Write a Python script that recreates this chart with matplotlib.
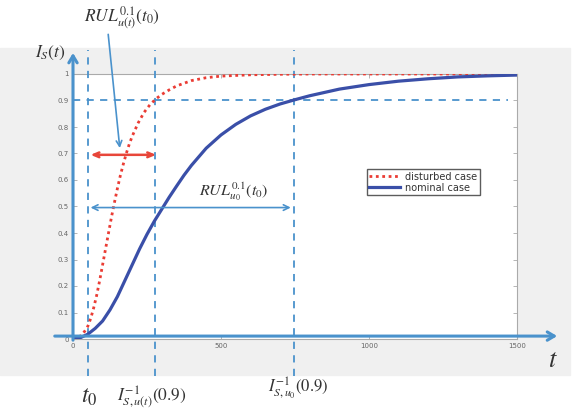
import matplotlib.pyplot as plt
from matplotlib.patches import Rectangle

plt.rcParams['mathtext.fontset'] = 'stix'

# disturbed case (red dotted)
t_dist = [0, 10, 20, 30, 40, 50, 60, 70, 80, 90, 100, 110, 120, 130, 140, 150,
          160, 170, 180, 190, 200, 220, 240, 260, 280, 300, 325, 350, 400, 450,
          500, 600, 700, 800, 1000, 1200, 1500]
i_dist = [0, 0.002, 0.007, 0.016, 0.03, 0.048, 0.078, 0.118, 0.165, 0.22, 0.28,
          0.34, 0.40, 0.46, 0.515, 0.568, 0.617, 0.66, 0.70, 0.735, 0.765, 0.815,
          0.855, 0.884, 0.906, 0.923, 0.94, 0.955, 0.975, 0.986, 0.992, 0.997,
          0.999, 1.0, 1.0, 1.0, 1.0]

# nominal case (blue solid)
t_nom = [0, 25, 50, 75, 100, 125, 150, 175, 200, 225, 250, 275, 300, 325, 350,
         375, 400, 450, 500, 550, 600, 650, 700, 750, 800, 900, 1000, 1100,
         1200, 1300, 1400, 1500]
i_nom = [0, 0.005, 0.018, 0.04, 0.068, 0.11, 0.16, 0.22, 0.28, 0.34, 0.395,
         0.445, 0.49, 0.535, 0.577, 0.618, 0.655, 0.72, 0.77, 0.81, 0.842,
         0.867, 0.887, 0.903, 0.918, 0.943, 0.96, 0.973, 0.982, 0.989, 0.993,
         0.996]

# markers on the time axis
t0 = 50
t_inv_dist = 276
t_inv_nom = 745
level = 0.9

yticks = [0, 0.1, 0.2, 0.3, 0.4, 0.5, 0.6, 0.7, 0.8, 0.9, 1]
ytick_labels = ['0', '0.1', '0.2', '0.3', '0.4', '0.5', '0.6', '0.7', '0.8', '0.9', '1']
xticks = [0, 500, 1000, 1500]
xtick_labels = ['0', '500', '1000', '1500']

W, H = 581, 411
fig = plt.figure(figsize=(W / 100, H / 100), dpi=100)
fig.patches.append(Rectangle((0, 1 - 375 / H), 570 / W, (375 - 48) / H,
                             transform=fig.transFigure, color='#f0f0f0', zorder=-10))

ax = fig.add_axes([73 / W, 1 - 339 / H, 444 / W, 265 / H])
ax.set_facecolor('white')
ax.set_xlim(0, 1500)
ax.set_ylim(0, 1)

ARROW = '#4a92cc'
DARK = '#333333'

# curves
ax.plot(t_dist, i_dist, linestyle=(0, (1, 1.3)), color='#ea3c34', lw=2.0,
        label='disturbed case', zorder=4)
ax.plot(t_nom, i_nom, color='#3a4fa8', lw=2.3, label='nominal case', zorder=4)

# dashed guide lines
for tv in [t0, t_inv_dist, t_inv_nom]:
    ax.plot([tv, tv], [-0.14, 1.09], color=ARROW, lw=1.3, ls=(0, (4, 3.5)), clip_on=False, zorder=3)
ax.plot([0, 1470], [level, level], color=ARROW, lw=1.3, ls=(0, (4, 3.5)), clip_on=False, zorder=3)

# axis arrows
ax.annotate('', xy=(0, 1.09), xytext=(0, -0.015),
            arrowprops=dict(arrowstyle='->,head_length=0.5,head_width=0.3', color=ARROW, lw=2.2),
            annotation_clip=False, zorder=5)
ax.annotate('', xy=(1645, 0.011), xytext=(-71, 0.011),
            arrowprops=dict(arrowstyle='->,head_length=0.5,head_width=0.3', color=ARROW, lw=2.2),
            annotation_clip=False, zorder=5)

# RUL arrows
ax.annotate('', xy=(t_inv_dist + 14, 0.695), xytext=(t0, 0.695),
            arrowprops=dict(arrowstyle='<->,head_length=0.4,head_width=0.17', color='#e8463a', lw=1.8),
            zorder=5)
ax.annotate('', xy=(t_inv_nom, 0.496), xytext=(t0, 0.496),
            arrowprops=dict(arrowstyle='<->,head_length=0.4,head_width=0.2', color=ARROW, lw=1.2),
            zorder=5)
ax.annotate('', xy=(159, 0.71), xytext=(118, 1.16),
            arrowprops=dict(arrowstyle='->,head_length=0.4,head_width=0.2', color=ARROW, lw=1.2),
            annotation_clip=False, zorder=5)

ax.set_xticks(xticks)
ax.set_xticklabels(xtick_labels)
ax.set_yticks(yticks)
ax.set_yticklabels(ytick_labels)
ax.tick_params(direction='in', length=3, width=0.5, labelsize=5, labelcolor='#666666',
               color='#999999', right=True, top=True, pad=3)
for s in ax.spines.values():
    s.set_color('#aaaaaa')
    s.set_linewidth(0.8)

leg = ax.legend(loc='upper left', bbox_to_anchor=(0.662, 0.64), fontsize=7, frameon=True,
                fancybox=False, edgecolor='#333333', handlelength=3.2, borderpad=0.25,
                labelspacing=0.1, handletextpad=0.5, borderaxespad=0)
leg.get_frame().set_linewidth(1.0)
for txt in leg.get_texts():
    txt.set_color('#333333')


def ftext(x, y, s, size):
    fig.text(x / W, 1 - y / H, s, fontsize=size, color=DARK, ha='center', va='center')


ftext(122, 18, r'$RUL^{0.1}_{u(t)}(t_0)$', 12.5)
ftext(50, 53, r'$I_S(t)$', 12.5)
ftext(234, 192, r'$RUL^{0.1}_{u_0}(t_0)$', 11.5)
ftext(553, 360, r'$t$', 19)
ftext(89, 396, r'$t_0$', 17)
ftext(152, 397, r'$I^{-1}_{S,u(t)}(0.9)$', 12.5)
ftext(298, 388, r'$I^{-1}_{S,u_0}(0.9)$', 12)

fig.savefig('out.png', dpi=100)
